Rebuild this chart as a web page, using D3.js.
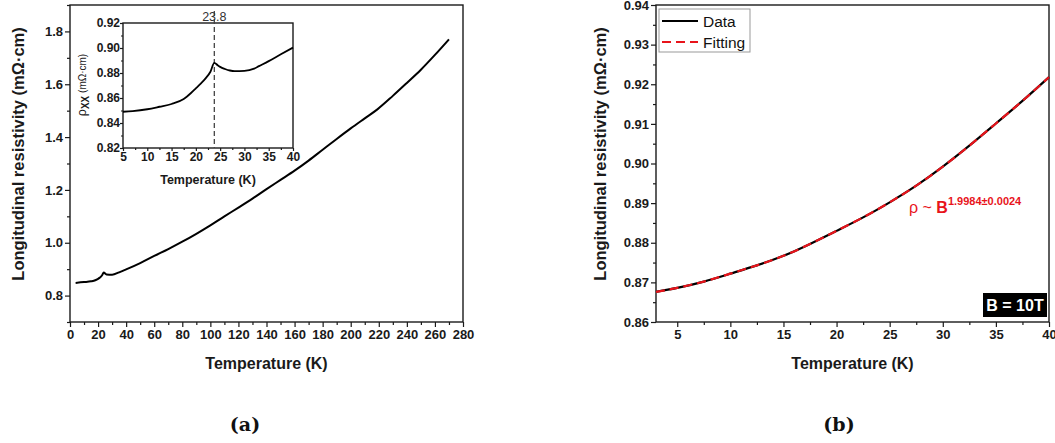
<!DOCTYPE html>
<html>
<head>
<meta charset="utf-8">
<title>Resistivity</title>
<script src="https://cdn.jsdelivr.net/npm/d3@7"></script>
<style>
  body { margin: 0; background: #fff; }
  svg { display: block; font-family: "Liberation Sans", Arial, sans-serif; }
  .tick text { font-weight: bold; }
</style>
</head>
<body>
<svg id="fig" width="1055" height="443"></svg>
<script>
// ---- panel (a): full temperature range ----
const tempA = [4, 10, 15, 18, 21, 23, 24, 26, 30, 35, 40, 50, 60, 70, 80, 90, 100, 110, 120, 130, 140, 150, 160, 170, 180, 190, 200, 210, 219, 230, 240, 250, 260, 270];
const rhoA  = [0.848, 0.851, 0.854, 0.858, 0.867, 0.878, 0.887, 0.880, 0.879, 0.888, 0.899, 0.923, 0.950, 0.976, 1.004, 1.034, 1.066, 1.100, 1.133, 1.167, 1.203, 1.238, 1.273, 1.311, 1.352, 1.393, 1.433, 1.471, 1.505, 1.556, 1.605, 1.655, 1.711, 1.770];

// ---- inset: low temperature zoom ----
const tempInset = [5, 7, 10, 12.5, 15, 17.5, 19, 20, 21, 22, 23, 23.8, 24.5, 25, 26, 27, 28, 30, 32, 33, 35, 37.5, 40];
const rhoInset  = [0.849, 0.8495, 0.851, 0.853, 0.8552, 0.8592, 0.864, 0.8677, 0.8715, 0.8757, 0.881, 0.8881, 0.8862, 0.8849, 0.8832, 0.882, 0.8815, 0.8817, 0.8835, 0.8855, 0.8895, 0.895, 0.9003];
const peakT = 23.8;

// ---- panel (b): data and fit ----
const tempB = [3, 5, 7.5, 10, 12.5, 15, 17.5, 20, 22.5, 25, 27.5, 30, 32.5, 35, 37.5, 40];
const rhoB  = [0.8676, 0.8686, 0.8702, 0.8722, 0.8743, 0.8767, 0.8797, 0.8830, 0.8864, 0.8902, 0.8944, 0.8992, 0.9045, 0.9101, 0.9158, 0.9218];
const fitB  = [0.8676, 0.8686, 0.8702, 0.8722, 0.8743, 0.8767, 0.8797, 0.8830, 0.8864, 0.8902, 0.8944, 0.8992, 0.9045, 0.9101, 0.9158, 0.9218];

const ticksAx = d3.range(0, 281, 20);
const ticksAy = [0.8, 1.0, 1.2, 1.4, 1.6, 1.8];
const ticksInX = [5, 10, 15, 20, 25, 30, 35, 40];
const ticksInY = [0.82, 0.84, 0.86, 0.88, 0.90, 0.92];
const ticksBx = [5, 10, 15, 20, 25, 30, 35, 40];
const ticksBy = [0.86, 0.87, 0.88, 0.89, 0.90, 0.91, 0.92, 0.93, 0.94];

const svg = d3.select("#fig");
const ink = "#1a1a1a";

function frame(g, x, y, tickSize, minorSize, xt, yt, xMinor, yMinor, fs, xfmt, yfmt, labelPad) {
  const [x0, x1] = x.range(), [y0, y1] = y.range();
  // minor ticks
  g.append("g").attr("transform", `translate(0,${y0})`)
    .call(d3.axisBottom(x).tickValues(xMinor).tickSize(minorSize).tickFormat(""))
    .call(a => a.select(".domain").remove());
  g.append("g").attr("transform", `translate(${x0},0)`)
    .call(d3.axisLeft(y).tickValues(yMinor).tickSize(minorSize).tickFormat(""))
    .call(a => a.select(".domain").remove());
  // major ticks
  g.append("g").attr("transform", `translate(0,${y0})`)
    .call(d3.axisBottom(x).tickValues(xt).tickSize(tickSize).tickPadding(labelPad).tickFormat(xfmt))
    .call(a => a.select(".domain").remove())
    .selectAll("text").attr("font-size", fs).attr("fill", ink);
  g.append("g").attr("transform", `translate(${x0},0)`)
    .call(d3.axisLeft(y).tickValues(yt).tickSize(tickSize).tickPadding(labelPad - 1).tickFormat(yfmt))
    .call(a => a.select(".domain").remove())
    .selectAll("text").attr("font-size", fs).attr("fill", ink);
  g.selectAll(".tick line").attr("stroke", ink).attr("stroke-width", 1.2);
  g.append("rect").attr("x", x0).attr("y", y1).attr("width", x1 - x0).attr("height", y0 - y1)
    .attr("fill", "none").attr("stroke", ink).attr("stroke-width", 1.4);
}

// ================= panel (a) =================
const xA = d3.scaleLinear().domain([0, 280]).range([70, 463]);
const yA = d3.scaleLinear().domain([0.7, 1.9]).range([322, 5]);
const gA = svg.append("g");
frame(gA, xA, yA, 5, 3, ticksAx, ticksAy, d3.range(10, 280, 20), d3.range(0.7, 1.95, 0.2),
      13, d3.format("d"), d3.format(".1f"), 3);

gA.append("path")
  .attr("d", d3.line().x((d, i) => xA(tempA[i])).y(d => yA(d)).curve(d3.curveMonotoneX)(rhoA))
  .attr("fill", "none").attr("stroke", "#000").attr("stroke-width", 2);

gA.append("text").attr("x", xA(140)).attr("y", 369).attr("text-anchor", "middle")
  .attr("font-size", 16).attr("font-weight", "bold").attr("fill", ink).text("Temperature (K)");
gA.append("text").attr("transform", "translate(24,154) rotate(-90)").attr("text-anchor", "middle")
  .attr("font-size", 16.5).attr("font-weight", "bold").attr("fill", ink).text("Longitudinal resistivity (mΩ·cm)");

// inset
const xI = d3.scaleLinear().domain([5, 40]).range([123, 293]);
const yI = d3.scaleLinear().domain([0.82, 0.92]).range([148, 23]);
const gI = svg.append("g");
gI.append("rect").attr("x", 123).attr("y", 23).attr("width", 170).attr("height", 125).attr("fill", "#fff");
frame(gI, xI, yI, 3, 2, ticksInX, ticksInY, d3.range(7.5, 40, 5), d3.range(0.83, 0.92, 0.02),
      12, d3.format("d"), d3.format(".2f"), 1);
gI.append("line").attr("x1", xI(peakT)).attr("x2", xI(peakT)).attr("y1", 11).attr("y2", 148)
  .attr("stroke", "#444").attr("stroke-width", 1.3).attr("stroke-dasharray", "5,3");
gI.append("text").attr("x", xI(peakT)).attr("y", 21).attr("text-anchor", "middle")
  .attr("font-size", 12.5).attr("fill", "#333").text(peakT.toFixed(1));
gI.append("path")
  .attr("d", d3.line().x((d, i) => xI(tempInset[i])).y(d => yI(d)).curve(d3.curveMonotoneX)(rhoInset))
  .attr("fill", "none").attr("stroke", "#000").attr("stroke-width", 1.8);
gI.append("text").attr("x", xI(22.5)).attr("y", 184).attr("text-anchor", "middle")
  .attr("font-size", 12.5).attr("font-weight", "bold").attr("fill", ink).text("Temperature (K)");
const yl = gI.append("text").attr("transform", "translate(86,85) rotate(-90)").attr("text-anchor", "middle").attr("fill", ink);
yl.append("tspan").attr("font-size", 12.5).text("ρ");
yl.append("tspan").attr("font-size", 10).attr("font-weight", "bold").attr("dy", 3).text("XX");
yl.append("tspan").attr("font-size", 10).attr("dy", -3).text(" (mΩ·cm)");

// ================= panel (b) =================
const xB = d3.scaleLinear().domain([3, 40]).range([656, 1049]);
const yB = d3.scaleLinear().domain([0.86, 0.94]).range([322, 5]);
const gB = svg.append("g");
frame(gB, xB, yB, 5, 3, ticksBx, ticksBy, d3.range(7.5, 40, 5), d3.range(0.865, 0.94, 0.01),
      13, d3.format("d"), d3.format(".2f"), 3);

const lineB = d3.line().x((d, i) => xB(tempB[i])).y(d => yB(d)).curve(d3.curveNatural);
gB.append("path").attr("d", lineB(rhoB))
  .attr("fill", "none").attr("stroke", "#000").attr("stroke-width", 2.2);
gB.append("path").attr("d", lineB(fitB))
  .attr("fill", "none").attr("stroke", "#e8141b").attr("stroke-width", 2.2).attr("stroke-dasharray", "9,5");

gB.append("text").attr("x", (656 + 1049) / 2).attr("y", 369).attr("text-anchor", "middle")
  .attr("font-size", 16).attr("font-weight", "bold").attr("fill", ink).text("Temperature (K)");
gB.append("text").attr("transform", "translate(606,154) rotate(-90)").attr("text-anchor", "middle")
  .attr("font-size", 16.5).attr("font-weight", "bold").attr("fill", ink).text("Longitudinal resistivity (mΩ·cm)");

// legend
const leg = gB.append("g");
leg.append("rect").attr("x", 659).attr("y", 9).attr("width", 91).attr("height", 43)
  .attr("fill", "#fff").attr("stroke", "#999").attr("stroke-width", 1);
const legItems = [["Data", "#000", null], ["Fitting", "#e8141b", "9,5"]];
legItems.forEach((d, i) => {
  const yy = 21 + i * 21;
  leg.append("line").attr("x1", 662).attr("x2", 698).attr("y1", yy).attr("y2", yy)
    .attr("stroke", d[1]).attr("stroke-width", 2).attr("stroke-dasharray", d[2]);
  leg.append("text").attr("x", 703).attr("y", yy + 5.5).attr("font-size", 15.5).attr("fill", "#111").text(d[0]);
});

// power law annotation
const ann = gB.append("text").attr("x", 909).attr("y", 213).attr("fill", "#e8141b");
ann.append("tspan").attr("font-size", 16).text("ρ ~ ");
ann.append("tspan").attr("font-size", 16).attr("font-weight", "bold").text("B");
ann.append("tspan").attr("font-size", 11).attr("font-weight", "bold").attr("dy", -8).text("1.9984±0.0024");

// field box
gB.append("rect").attr("x", 983).attr("y", 293).attr("width", 64).attr("height", 24).attr("fill", "#000");
gB.append("text").attr("x", 1015).attr("y", 311).attr("text-anchor", "middle")
  .attr("font-size", 16).attr("font-weight", "bold").attr("fill", "#fff").text("B = 10T");

// panel letters
[["(a)", 245], ["(b)", 839]].forEach(d => {
  svg.append("text").attr("x", d[1]).attr("y", 431).attr("text-anchor", "middle")
    .attr("font-family", "'DejaVu Serif', serif").attr("font-weight", "bold").attr("font-size", 19)
    .attr("fill", "#111").text(d[0]);
});
</script>
</body>
</html>
